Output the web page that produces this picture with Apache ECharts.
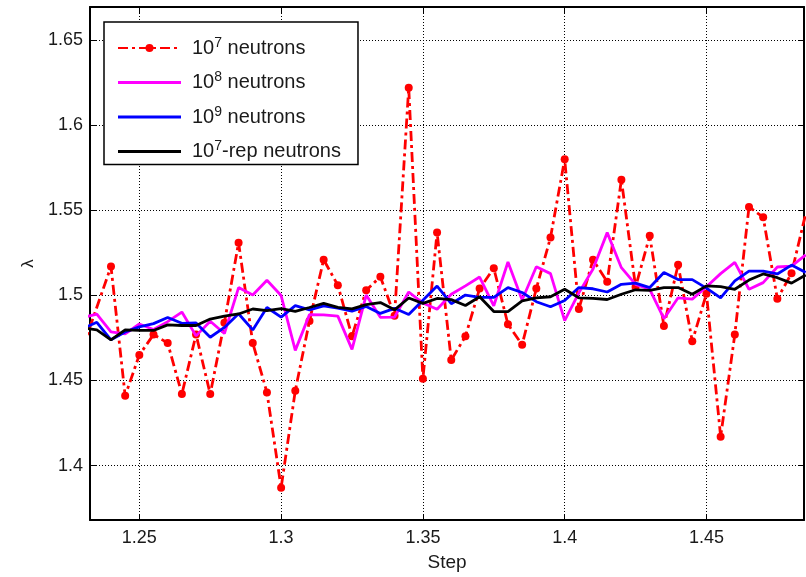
<!DOCTYPE html>
<html>
<head>
<meta charset="utf-8">
<script src="https://cdn.jsdelivr.net/npm/echarts@6/dist/echarts.min.js"></script>
<style>html,body{margin:0;padding:0;background:#fff}#c{width:806px;height:577px}</style>
</head>
<body>
<div id="c"></div>
<script>
var steps = [1.23,1.235,1.24,1.245,1.25,1.255,1.26,1.265,1.27,1.275,1.28,1.285,1.29,1.295,1.3,1.305,1.31,1.315,1.32,1.325,1.33,1.335,1.34,1.345,1.35,1.355,1.36,1.365,1.37,1.375,1.38,1.385,1.39,1.395,1.4,1.405,1.41,1.415,1.42,1.425,1.43,1.435,1.44,1.445,1.45,1.455,1.46,1.465,1.47,1.475,1.48,1.485];
var red = [1.469,null,1.517,1.441,1.465,1.477,1.472,1.442,1.477,1.442,1.484,1.531,1.472,1.443,1.387,1.444,1.485,1.521,1.506,1.476,1.503,1.511,1.488,1.622,1.451,1.537,1.462,1.476,1.504,1.516,1.483,1.471,1.504,1.534,1.580,1.492,1.521,1.508,1.568,1.505,1.535,1.482,1.518,1.473,1.501,1.417,1.477,1.552,1.546,1.498,1.513,1.548];
var magenta = [1.487,1.489,1.4785,1.4774,1.4832,1.480,1.4846,1.4902,1.4762,1.4848,1.4776,1.5046,1.5002,1.5089,1.4999,1.4677,1.4887,1.4886,1.4878,1.4683,1.5002,1.4871,1.4872,1.502,1.4955,1.4919,1.5007,1.5056,1.5108,1.4939,1.5196,1.4973,1.5168,1.5128,1.4852,1.5015,1.5155,1.5369,1.5163,1.5065,1.5036,1.4863,1.4986,1.4978,1.5051,1.5128,1.5194,1.5036,1.5075,1.5167,1.5172,1.5238];
var blue = [1.4805,1.4842,1.4739,1.4785,1.4815,1.4834,1.4870,1.4836,1.4838,1.4754,1.4812,1.4892,1.4797,1.4929,1.4872,1.4940,1.4915,1.4939,1.4925,1.4907,1.4935,1.4894,1.4924,1.4888,1.4972,1.5055,1.4951,1.5002,1.4988,1.4988,1.5046,1.5017,1.4963,1.4933,1.4970,1.5046,1.5039,1.5020,1.5065,1.5072,1.5046,1.5135,1.5093,1.5093,1.5043,1.4986,1.5085,1.5143,1.5143,1.5126,1.5178,1.5135];
var black = [1.4809,1.4797,1.4739,1.4797,1.4794,1.4794,1.4827,1.4823,1.4823,1.4861,1.4878,1.4891,1.4920,1.4910,1.4922,1.4906,1.4929,1.4953,1.4930,1.4921,1.4946,1.4958,1.4915,1.4985,1.4953,1.4982,1.4975,1.4941,1.4992,1.4905,1.4905,1.4968,1.4986,1.4992,1.5036,1.4986,1.4983,1.4976,1.5007,1.5033,1.5030,1.5046,1.5046,1.5007,1.5056,1.5051,1.5036,1.5090,1.5126,1.5104,1.5072,1.512];
var seriesNames = ['n7','n8','n9','n7rep'];
var legendLabels = {
  n7: '{f|10}{s|7}{b| neutrons}',
  n8: '{f|10}{s|8}{b| neutrons}',
  n9: '{f|10}{s|9}{b| neutrons}',
  n7rep: '{f|10}{s|7}{b|-rep neutrons}'
};
var xMin = 1.2326, xMax = 1.4844, yMin = 1.368, yMax = 1.6695;

function pairs(vals){ return steps.map(function(x,i){ return [x, vals[i]]; }); }

var FONT = 'Liberation Sans, Arial, Helvetica, sans-serif';
var TXT = '#1a1a1a';
var barIcon = 'path://M0,0L62,0L62,2.8L0,2.8Z';
var chart = echarts.init(document.getElementById('c'), null, {renderer:'canvas'});
var gridLine = {show:true, lineStyle:{color:'#000', width:1, type:[1,2]}};
var commonAxisLine = {show:true, onZero:false, lineStyle:{color:'#000', width:2}};
var tick = {show:true, inside:true, length:6, lineStyle:{color:'#000', width:1}};
chart.setOption({
  animation:false,
  backgroundColor:'#fff',
  grid:{left:90, right:2, top:7, bottom:53, containLabel:false},
  legend:{
    data:[
      {name:'n7'},
      {name:'n8', icon:barIcon},
      {name:'n9', icon:barIcon},
      {name:'n7rep', icon:barIcon}
    ],
    orient:'vertical',
    left:104, top:22,
    padding:[14,17,3,13],
    itemWidth:63, itemHeight:10, itemGap:12.5,
    backgroundColor:'#fff',
    borderColor:'#000', borderWidth:1.5,
    formatter:function(n){ return legendLabels[n]; },
    textStyle:{
      fontFamily:FONT, color:TXT,
      rich:{
        f:{fontSize:20, fontFamily:FONT, color:TXT, lineHeight:24, padding:[0,0,0,6]},
        b:{fontSize:20, fontFamily:FONT, color:TXT, lineHeight:24},
        s:{fontSize:14, fontFamily:FONT, color:TXT, verticalAlign:'top', lineHeight:12}
      }
    }
  },
  xAxis:[{
    type:'value', min:xMin, max:xMax, splitNumber:5,
    name:'Step', nameLocation:'middle', nameGap:33,
    nameTextStyle:{fontFamily:FONT, fontSize:19, color:TXT},
    axisLine:commonAxisLine,
    axisTick:tick,
    axisLabel:{fontFamily:FONT, fontSize:18, color:TXT, margin:9, showMinLabel:false, showMaxLabel:false},
    splitLine:gridLine
  },{
    type:'value', position:'top', min:xMin, max:xMax, splitNumber:5,
    axisLine:commonAxisLine, axisTick:tick,
    axisLabel:{show:false}, splitLine:{show:false}
  }],
  yAxis:[{
    type:'value', min:yMin, max:yMax, splitNumber:6,
    name:'λ', nameLocation:'middle', nameGap:47,
    nameTextStyle:{fontFamily:FONT, fontSize:17, color:TXT},
    axisLine:commonAxisLine, axisTick:tick,
    axisLabel:{fontFamily:FONT, fontSize:18, color:TXT, margin:7, showMinLabel:false, showMaxLabel:false},
    splitLine:gridLine
  },{
    type:'value', position:'right', min:yMin, max:yMax, splitNumber:6,
    axisLine:commonAxisLine, axisTick:tick,
    axisLabel:{show:false}, splitLine:{show:false}
  }],
  series:[
    {name:'n7', type:'line', data:pairs(red), connectNulls:true,
     symbol:'circle', symbolSize:8, showAllSymbol:true,
     itemStyle:{color:'#ff0000'},
     lineStyle:{color:'#ff0000', width:2.8, type:[10,4,3,4]}, z:2},
    {name:'n8', type:'line', data:pairs(magenta), symbol:'none',
     lineStyle:{color:'#ff00ff', width:2.8}, itemStyle:{color:'#ff00ff'}, z:3},
    {name:'n9', type:'line', data:pairs(blue), symbol:'none',
     lineStyle:{color:'#0000ff', width:2.8}, itemStyle:{color:'#0000ff'}, z:4},
    {name:'n7rep', type:'line', data:pairs(black), symbol:'none',
     lineStyle:{color:'#000000', width:2.8}, itemStyle:{color:'#000000'}, z:5}
  ]
});
</script>
</body>
</html>
